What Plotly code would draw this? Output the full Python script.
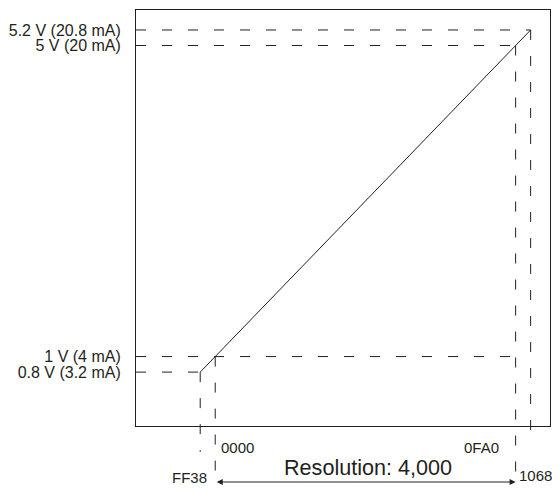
import plotly.graph_objects as go

# ---- data ----
codes = ["FF38", "0000", "0FA0", "1068"]
code_values = [-200, 0, 4000, 4200]
volt_values = [0.8, 1.0, 5.0, 5.2]
volt_labels = ["0.8 V (3.2 mA)", "1 V (4 mA)", "5 V (20 mA)", "5.2 V (20.8 mA)"]
resolution_label = "Resolution: 4,000"

# ---- style ----
X_RANGE = [-1055, 4458]
Y_RANGE = [0.107, 5.457]
INK = "#231f20"
DASH = "10px,16px"
FONT = "Liberation Sans, Arial, sans-serif"


def ypaper(v):
    return (v - Y_RANGE[0]) / (Y_RANGE[1] - Y_RANGE[0])


fig = go.Figure()

# transfer line
fig.add_trace(go.Scatter(
    x=[code_values[0], code_values[-1]],
    y=[volt_values[0], volt_values[-1]],
    mode="lines",
    line=dict(color=INK, width=1),
    hoverinfo="skip",
    showlegend=False,
))

shapes = []
# horizontal guide lines: (voltage index, code index to reach)
h_guides = [(0, 0), (1, 2), (2, 2), (3, 3)]
for vi, ci in h_guides:
    shapes.append(dict(type="line", xref="x", yref="y",
                       x0=X_RANGE[0], x1=code_values[ci],
                       y0=volt_values[vi], y1=volt_values[vi],
                       line=dict(color=INK, width=1, dash=DASH)))

# vertical guide lines: (code index, voltage index, bottom offset in paper)
v_guides = [(0, 0, -0.062), (1, 1, -0.15), (2, 2, -0.137), (3, 3, -0.034)]
for ci, vi, bottom in v_guides:
    shapes.append(dict(type="line", xref="x", yref="paper",
                       x0=code_values[ci], x1=code_values[ci],
                       y0=ypaper(volt_values[vi]), y1=bottom,
                       line=dict(color=INK, width=1, dash=DASH)))

annotations = []
label_specs = [
    # code index, xanchor, xshift, yshift
    (0, "right", 9, -51),
    (1, "left", 4, -21),
    (2, "right", -15, -21),
    (3, "left", -14, -49),
]
for ci, xa, xs, ys in label_specs:
    annotations.append(dict(x=code_values[ci], y=0, xref="x", yref="paper",
                            text=codes[ci], showarrow=False,
                            xanchor=xa, yanchor="middle",
                            xshift=xs, yshift=ys,
                            font=dict(size=15, color=INK, family=FONT)))

# resolution text
annotations.append(dict(x=(code_values[1] + code_values[2]) / 2, y=0,
                        xref="x", yref="paper", text=resolution_label,
                        showarrow=False, xanchor="center", yanchor="middle",
                        xshift=3, yshift=-41,
                        font=dict(size=21.6, color=INK, family=FONT)))

# double-headed arrow
annotations.append(dict(x=code_values[2], y=0, xref="x", yref="paper",
                        ax=code_values[1], ay=0, axref="x", ayref="pixel",
                        text="", showarrow=True, arrowside="end+start",
                        arrowhead=2, arrowsize=1.2, arrowwidth=1,
                        arrowcolor=INK, standoff=0, startstandoff=0,
                        yshift=-56))

fig.update_layout(
    width=544, height=478,
    margin=dict(l=127, r=1, t=1, b=60),
    paper_bgcolor="white", plot_bgcolor="white",
    shapes=shapes, annotations=annotations,
    font=dict(family=FONT, color=INK, size=15),
    xaxis=dict(range=X_RANGE, showgrid=False, zeroline=False,
               showticklabels=False, ticks="",
               showline=True, mirror=True, linecolor=INK, linewidth=1),
    yaxis=dict(range=Y_RANGE, showgrid=False, zeroline=False,
               tickvals=volt_values, ticktext=volt_labels, ticks="",
               ticklabelstandoff=11,
               tickfont=dict(size=16, color=INK, family=FONT),
               showline=True, mirror=True, linecolor=INK, linewidth=1),
)

fig.write_html("out.html")
